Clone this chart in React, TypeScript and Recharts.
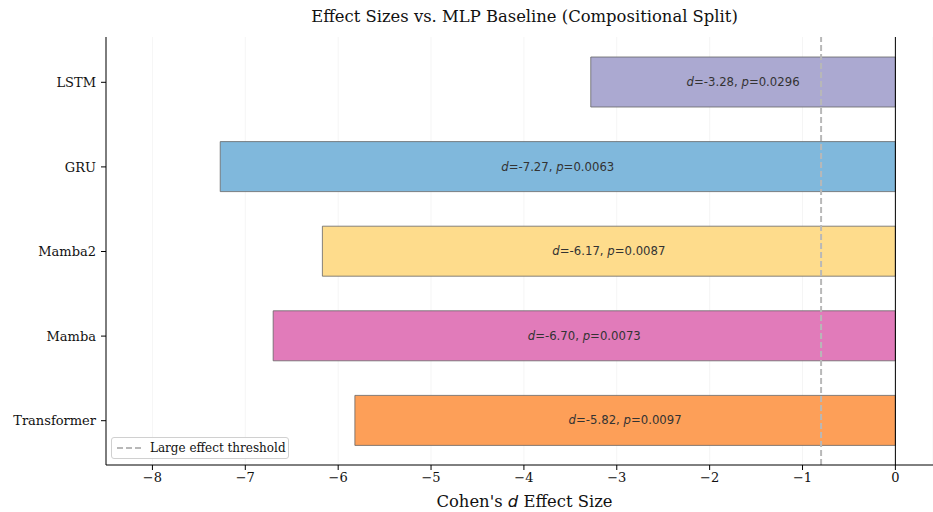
import React from "react";
import {
  BarChart,
  Bar,
  XAxis,
  YAxis,
  CartesianGrid,
  ReferenceLine,
  LabelList,
  Cell,
} from "recharts";

const models = ["LSTM", "GRU", "Mamba2", "Mamba", "Transformer"];
const effectSizes = [-3.28, -7.27, -6.17, -6.7, -5.82];
const pValues = ["0.0296", "0.0063", "0.0087", "0.0073", "0.0097"];
const barColors = ["#ABA9D1", "#80B8DC", "#FEDC8C", "#E17BBA", "#FD9F58"];
const xTicks = [-8, -7, -6, -5, -4, -3, -2, -1, 0];
const threshold = -0.8;

const data = models.map((m, i) => ({
  name: m,
  d: effectSizes[i],
  p: pValues[i],
}));

const SERIF = "'DejaVu Serif', serif";
const SANS = "'DejaVu Sans', sans-serif";

const fmtTick = (v: number) => (v < 0 ? "\u2212" + Math.abs(v) : String(v));

const BarLabel = (props: any) => {
  const { x, y, width, height, index } = props;
  const cx = Number(x) + Number(width) / 2;
  const cy = Number(y) + Number(height) / 2;
  const row = data[index];
  return (
    <text
      x={cx}
      y={cy}
      textAnchor="middle"
      dominantBaseline="central"
      fontFamily={SANS}
      fontSize={11.7}
      fill="#333"
    >
      <tspan fontStyle="italic">d</tspan>
      <tspan>={row.d.toFixed(2)}, </tspan>
      <tspan fontStyle="italic">p</tspan>
      <tspan>={row.p}</tspan>
    </text>
  );
};

export default function App() {
  return (
    <div
      style={{
        position: "absolute",
        left: 0,
        top: 0,
        width: 933,
        height: 512,
        background: "#fff",
      }}
    >
      <div
        style={{
          position: "absolute",
          left: 111,
          width: 827,
          top: 7,
          textAlign: "center",
          fontFamily: SERIF,
          fontSize: 16.4,
          color: "#111",
          whiteSpace: "nowrap",
        }}
      >
        Effect Sizes vs. MLP Baseline (Compositional Split)
      </div>
      <BarChart
        width={933}
        height={512}
        data={data}
        layout="vertical"
        margin={{ top: 37, right: 0, bottom: 0, left: 0 }}
        barCategoryGap="20%"
      >
        <CartesianGrid
          horizontal={false}
          vertical={true}
          stroke="#f2f2f2"
          strokeWidth={0.8}
        />
        <XAxis
          type="number"
          domain={[-8.5, 0.405]}
          ticks={xTicks}
          tickFormatter={fmtTick}
          height={47}
          allowDataOverflow
          axisLine={{ stroke: "#000", strokeWidth: 1 }}
          tickLine={{ stroke: "#000" }}
          tickSize={5}
          tickMargin={3}
          tick={{ fontFamily: SERIF, fontSize: 13, fill: "#111" }}
        />
        <YAxis
          type="category"
          dataKey="name"
          width={106}
          padding={{ top: 3, bottom: 2 }}
          axisLine={{ stroke: "#000", strokeWidth: 1 }}
          tickLine={{ stroke: "#000" }}
          tickSize={5}
          tickMargin={5}
          tick={{ fontFamily: SERIF, fontSize: 13, fill: "#111" }}
        />
        <Bar
          dataKey="d"
          barSize={50}
          stroke="#666"
          strokeWidth={0.8}
          isAnimationActive={false}
        >
          {data.map((_, i) => (
            <Cell key={i} fill={barColors[i]} />
          ))}
          <LabelList dataKey="d" content={BarLabel} />
        </Bar>
        <ReferenceLine x={0} stroke="#000" strokeWidth={1} />
        <ReferenceLine
          x={threshold}
          stroke="#b8b8b8"
          strokeWidth={2}
          strokeDasharray="6 3"
        />
      </BarChart>
      <div
        style={{
          position: "absolute",
          left: 111,
          width: 827,
          top: 492,
          textAlign: "center",
          fontFamily: SERIF,
          fontSize: 16.4,
          color: "#111",
          whiteSpace: "nowrap",
        }}
      >
        Cohen's <span style={{ fontFamily: SANS, fontStyle: "italic" }}>d</span>{" "}
        Effect Size
      </div>
      <div
        style={{
          position: "absolute",
          left: 111,
          top: 437,
          width: 176,
          height: 20,
          border: "1px solid #d0d0d0",
          borderRadius: 3,
          background: "rgba(255,255,255,0.85)",
          display: "flex",
          alignItems: "center",
          fontFamily: SERIF,
          fontSize: 12,
          color: "#111",
          boxSizing: "content-box",
        }}
      >
        <svg width={38} height={20} style={{ flex: "none" }}>
          <line
            x1={5}
            x2={31}
            y1={10}
            y2={10}
            stroke="#b8b8b8"
            strokeWidth={2}
            strokeDasharray="6 3"
          />
        </svg>
        <span style={{ whiteSpace: "nowrap" }}>Large effect threshold</span>
      </div>
    </div>
  );
}
